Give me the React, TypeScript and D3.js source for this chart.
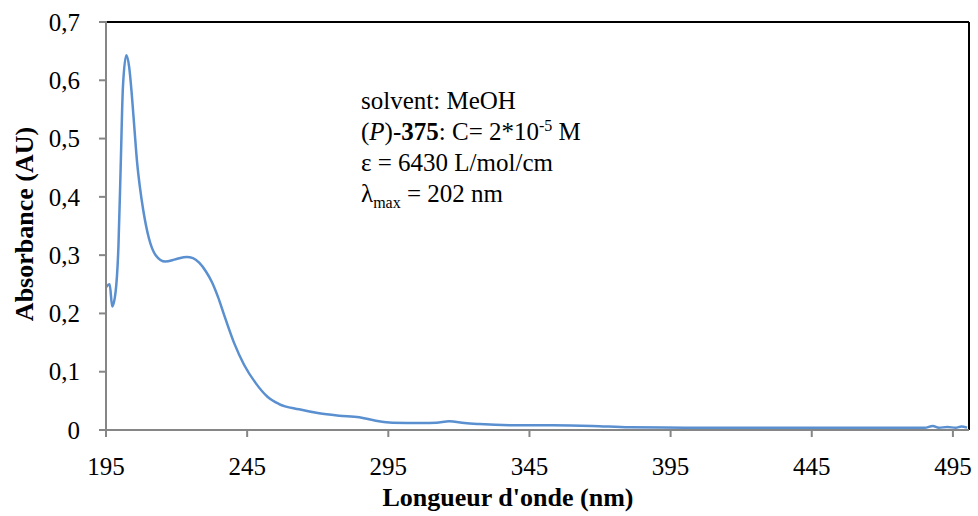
import React from "react";
import * as d3 from "d3";

const wavelengths = [195, 196.3, 197.2, 198.4, 199.4, 200.2, 201, 202.2, 203.2, 204.1, 205.1, 206, 207, 208.2, 210.2, 212.6, 216, 219.7, 223.6, 225.8, 228, 230.4, 232.5, 234.7, 236.8, 240.4, 243.9, 248.1, 252.2, 256.3, 263.4, 270.5, 277.6, 284.7, 290.6, 296.4, 307, 312, 316.6, 322, 327.3, 342.5, 353.2, 367.3, 380.5, 400, 430, 460, 485, 487.9, 490, 493, 496, 498, 500];
const absorbance = [0.245, 0.25, 0.212, 0.237, 0.314, 0.452, 0.589, 0.643, 0.623, 0.578, 0.515, 0.46, 0.417, 0.377, 0.329, 0.3, 0.289, 0.293, 0.297, 0.295, 0.287, 0.272, 0.254, 0.228, 0.198, 0.149, 0.112, 0.08, 0.057, 0.0446, 0.0355, 0.0286, 0.0246, 0.0218, 0.016, 0.0126, 0.012, 0.0125, 0.015, 0.012, 0.0103, 0.008, 0.008, 0.0069, 0.0046, 0.004, 0.0037, 0.0037, 0.0037, 0.007, 0.004, 0.005, 0.004, 0.006, 0.004];
const xTicks = [195, 245, 295, 345, 395, 445, 495];
const yTicks = [0, 0.1, 0.2, 0.3, 0.4, 0.5, 0.6, 0.7];

const W = 978, H = 516;
const left = 106, right = 969, top = 22, bottom = 430;

export default function App() {
  const x = d3.scaleLinear().domain([195, 500.7]).range([left, right]);
  const y = d3.scaleLinear().domain([0, 0.7]).range([bottom, top]);
  const pts = wavelengths.map((w, i) => [w, absorbance[i]] as [number, number]);
  const line = d3.line<[number, number]>().x(d => x(d[0])).y(d => y(d[1])).curve(d3.curveMonotoneX);
  const fmt = (v: number) => (v === 0 ? "0" : v.toFixed(1).replace(".", ","));
  const serif = "'Liberation Serif', 'Times New Roman', serif";
  return (
    <svg width={W} height={H} style={{ position: "absolute", left: 0, top: 0, background: "#fff" }} fontFamily={serif}>
      <rect x={0} y={0} width={W} height={H} fill="#fff" />
      <line x1={left} x2={right} y1={top} y2={top} stroke="#000" strokeWidth={2} />
      <line x1={right} x2={right} y1={top} y2={bottom} stroke="#000" strokeWidth={2} />
      <path d={line(pts) || ""} fill="none" stroke="#5a8fd0" strokeWidth={2.5} strokeLinejoin="round" />
      <line x1={left} x2={left} y1={top - 1} y2={bottom} stroke="#868686" strokeWidth={2} />
      <line x1={left - 7} x2={right} y1={bottom} y2={bottom} stroke="#868686" strokeWidth={2} />
      {yTicks.map(t => (
        <g key={"y" + t}>
          <line x1={left - 7} x2={left} y1={y(t)} y2={y(t)} stroke="#868686" strokeWidth={2} />
          <text x={80} y={y(t)} dy="0.35em" textAnchor="end" fontSize={25} fill="#000">{fmt(t)}</text>
        </g>
      ))}
      {xTicks.map(t => (
        <g key={"x" + t}>
          <line x1={x(t)} x2={x(t)} y1={bottom} y2={bottom + 7} stroke="#868686" strokeWidth={2} />
          <text x={x(t)} y={475} textAnchor="middle" fontSize={25} fill="#000">{t}</text>
        </g>
      ))}
      <text x={508} y={506} textAnchor="middle" fontSize={26} fontWeight="bold" fill="#000">Longueur d'onde (nm)</text>
      <text transform={`translate(33,224) rotate(-90)`} textAnchor="middle" fontSize={26} fontWeight="bold" fill="#000">Absorbance (AU)</text>
      <g fontSize={25} fill="#000">
        <text x={361} y={109}>solvent: MeOH</text>
        <text x={361} y={140}>(<tspan fontStyle="italic">P</tspan>)-<tspan fontWeight="bold">375</tspan>: C= 2*10<tspan fontSize={16} dy={-9}>-5</tspan><tspan dy={9}> M</tspan></text>
        <text x={361} y={171}>ε = 6430 L/mol/cm</text>
        <text x={361} y={202}>λ<tspan fontSize={16} dy={6}>max</tspan><tspan dy={-6}> = 202 nm</tspan></text>
      </g>
    </svg>
  );
}
